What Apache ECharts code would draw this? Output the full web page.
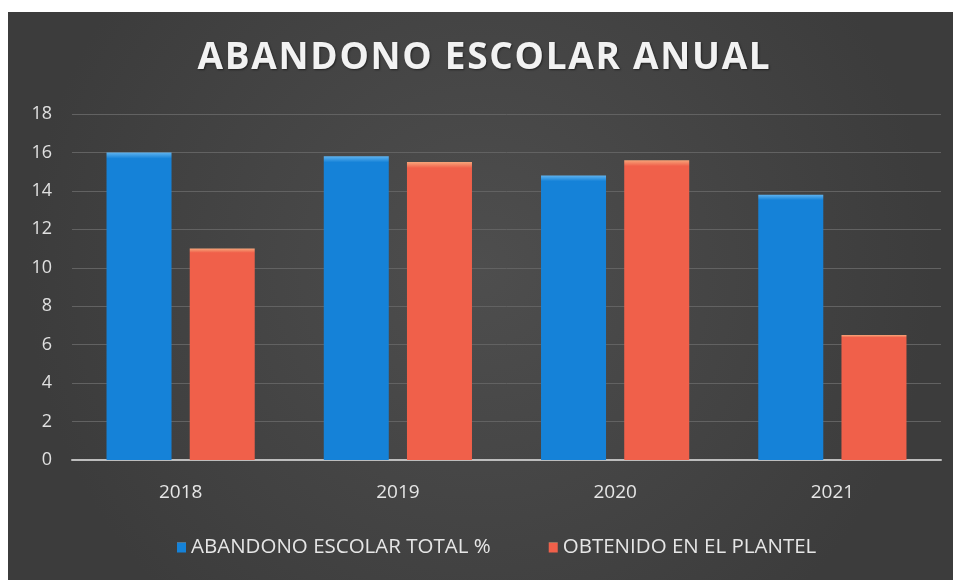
<!DOCTYPE html>
<html>
<head>
<meta charset="utf-8">
<script src="https://cdn.jsdelivr.net/npm/echarts@6/dist/echarts.min.js"></script>
<style>
html,body{margin:0;padding:0;background:#fff;width:953px;height:583px;overflow:hidden;}
#c{position:absolute;left:8px;top:12px;width:945px;height:568px;background:#464646;}
#t{position:absolute;left:12px;top:32px;width:945px;text-align:center;color:#f2f2f2;
   font-family:'Open Sans',sans-serif;font-weight:bold;font-size:37px;letter-spacing:1.7px;
   line-height:46px;text-shadow:1px 1px 2px rgba(0,0,0,0.5);pointer-events:none;}
</style>
</head>
<body>
<div id="c"></div>
<div id="t"></div>
<script>
var titleText = 'ABANDONO ESCOLAR ANUAL';
var categories = ['2018', '2019', '2020', '2021'];
var abandonoTotal = [16.0, 15.8, 14.8, 13.8];
var obtenidoPlantel = [11.0, 15.5, 15.6, 6.5];
var seriesNames = ['ABANDONO ESCOLAR TOTAL %', 'OBTENIDO EN EL PLANTEL'];

document.getElementById('t').textContent = titleText;

function grad(top, main) {
  return new echarts.graphic.LinearGradient(0, 0, 0, 1, [
    {offset: 0, color: top}, {offset: 0.02, color: main}, {offset: 1, color: main}
  ]);
}

var chart = echarts.init(document.getElementById('c'));
chart.setOption({
  backgroundColor: new echarts.graphic.RadialGradient(0.5, 0.45, 0.8, [
    {offset: 0, color: '#4e4e4e'}, {offset: 1, color: '#3c3c3c'}
  ]),
  animation: false,
  legend: {
    bottom: 17, left: 164, itemGap: 58,
    itemWidth: 9, itemHeight: 10, icon: 'rect',
    textStyle: {color: '#e6e6e6', fontFamily: 'Open Sans', fontSize: 20.5},
    data: seriesNames
  },
  grid: {left: 64, right: 12, top: 102, bottom: 120},
  xAxis: {
    type: 'category', data: categories,
    axisLine: {lineStyle: {color: '#bdbdbd', width: 2}},
    axisTick: {show: false},
    axisLabel: {color: '#e6e6e6', fontSize: 19, margin: 23, fontFamily: 'Open Sans'}
  },
  yAxis: {
    type: 'value', min: 0, max: 18, interval: 2,
    axisLine: {show: false}, axisTick: {show: false},
    axisLabel: {color: '#e0e0e0', fontSize: 18, margin: 20, fontFamily: 'Open Sans'},
    splitLine: {lineStyle: {color: '#626262', width: 1}}
  },
  series: [
    {name: seriesNames[0], type: 'bar', data: abandonoTotal, barWidth: 65, barGap: '28%',
     itemStyle: {color: grad('#5fb3ef', '#1582d8')}},
    {name: seriesNames[1], type: 'bar', data: obtenidoPlantel, barWidth: 65,
     itemStyle: {color: grad('#f7a57a', '#f0604a')}}
  ]
});
</script>
</body>
</html>
